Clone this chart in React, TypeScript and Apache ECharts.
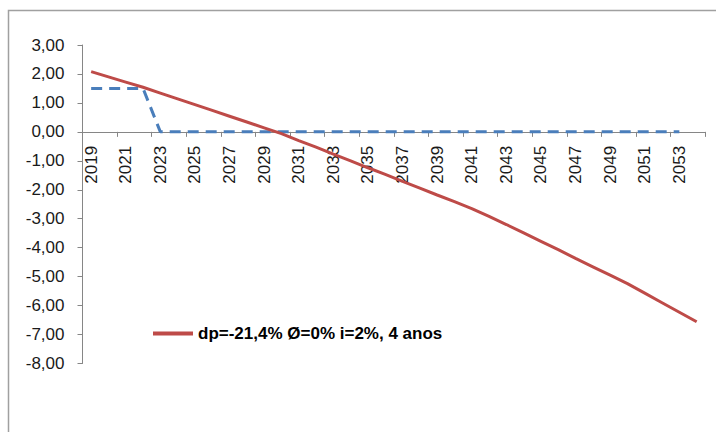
import React, { useEffect, useRef } from "react";
import * as echarts from "echarts";

const years: string[] = [];
for (let y = 2019; y <= 2054; y++) years.push(String(y));

const redName = "dp=-21,4% Ø=0% i=2%, 4 anos";
const redValues = [
  2.08, 1.9, 1.72, 1.54, 1.34, 1.14, 0.94, 0.74, 0.54, 0.34, 0.14, -0.06,
  -0.3, -0.53, -0.77, -1.0, -1.24, -1.47, -1.71, -1.94, -2.18, -2.41, -2.65,
  -2.92, -3.2, -3.49, -3.78, -4.07, -4.37, -4.66, -4.95, -5.24, -5.57, -5.9,
  -6.23, -6.56,
];
const blueValues: (number | null)[] = [
  1.5, 1.5, 1.5, 1.5, 0, 0, 0, 0, 0, 0, 0, 0, 0, 0, 0, 0, 0, 0, 0, 0, 0, 0, 0,
  0, 0, 0, 0, 0, 0, 0, 0, 0, 0, 0, 0, null,
];

const Y_MIN = -8;
const Y_MAX = 3;
const FONT = "Liberation Sans";
const GRID_TOP = 45;
const GRID_BOTTOM = 68.5;
const H = 432;

export default function App() {
  const ref = useRef<HTMLDivElement>(null);
  useEffect(() => {
    if (!ref.current) return;
    const chart = echarts.init(ref.current, undefined, { renderer: "svg" });
    const plotH = H - GRID_TOP - GRID_BOTTOM;
    const zeroFromBottom = ((0 - Y_MIN) / (Y_MAX - Y_MIN)) * plotH;
    chart.setOption({
      animation: false,
      backgroundColor: "#ffffff",
      textStyle: { fontFamily: FONT },
      graphic: [
        {
          type: "rect",
          silent: true,
          z: -10,
          shape: { x: 8.5, y: 10.5, width: 800, height: 600 },
          style: { fill: "none", stroke: "#a0a0a0", lineWidth: 1.5 },
        },
      ],
      grid: { left: 82.5, right: 10.7, top: GRID_TOP, bottom: GRID_BOTTOM },
      legend: {
        data: [redName],
        left: 148,
        top: 320,
        icon: "rect",
        itemWidth: 40,
        itemHeight: 4,
        textStyle: {
          fontFamily: FONT,
          fontSize: 17,
          fontWeight: "bold",
          color: "#000",
        },
      },
      xAxis: {
        type: "category",
        data: years,
        boundaryGap: true,
        position: "bottom",
        offset: -zeroFromBottom,
        axisLine: { onZero: false, lineStyle: { color: "#868686", width: 1 } },
        axisTick: { show: true, length: 5, lineStyle: { color: "#868686" } },
        axisLabel: {
          interval: 1,
          rotate: 90,
          margin: 14,
          fontSize: 17,
          fontFamily: FONT,
          color: "#1a1a1a",
        },
        splitLine: { show: false },
      },
      yAxis: {
        type: "value",
        min: Y_MIN,
        max: Y_MAX,
        interval: 1,
        axisLine: { show: true, lineStyle: { color: "#868686", width: 1 } },
        axisTick: { show: true, length: 5, lineStyle: { color: "#868686" } },
        axisLabel: {
          margin: 18,
          fontSize: 17,
          fontFamily: FONT,
          color: "#1a1a1a",
          formatter: (v: number) => v.toFixed(2).replace(".", ","),
        },
        splitLine: { show: false },
      },
      series: [
        {
          name: "blue",
          type: "line",
          data: blueValues,
          symbol: "none",
          z: 3,
          lineStyle: { color: "#4a7ebb", width: 3, type: [11, 7] },
          itemStyle: { color: "#4a7ebb" },
        },
        {
          name: redName,
          type: "line",
          data: redValues,
          symbol: "none",
          z: 4,
          lineStyle: { color: "#be4b48", width: 3 },
          itemStyle: { color: "#be4b48" },
        },
      ],
    });
    return () => chart.dispose();
  }, []);
  return (
    <div
      ref={ref}
      style={{ position: "fixed", left: 0, top: 0, width: 716, height: 432 }}
    />
  );
}
